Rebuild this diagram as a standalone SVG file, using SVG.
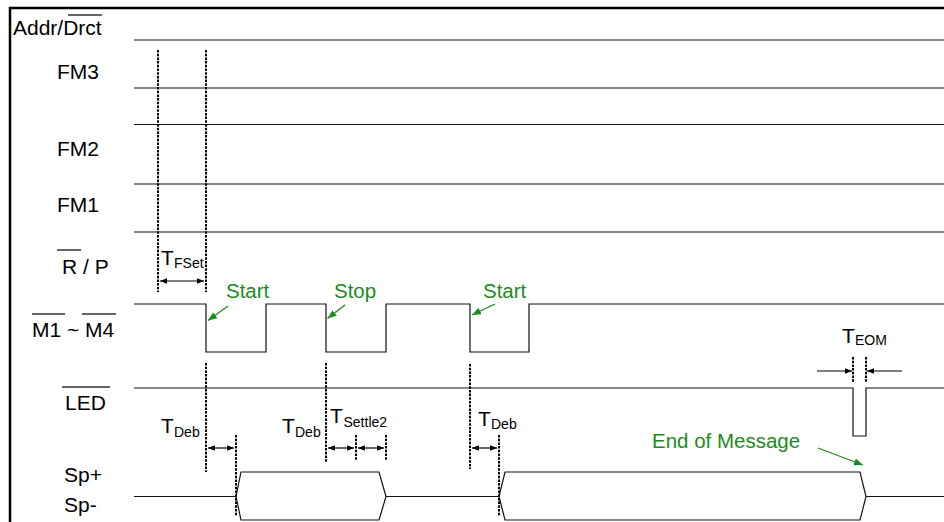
<svg xmlns="http://www.w3.org/2000/svg" width="944" height="522" viewBox="0 0 944 522">
<defs>
<style>
.lbl{font-family:"Liberation Sans",Arial,sans-serif;font-size:21px;fill:#000}
.sub{font-family:"Liberation Sans",Arial,sans-serif;font-size:14px;fill:#000}
.grn{font-family:"Liberation Sans",Arial,sans-serif;font-size:20.5px;fill:#1a8c1a}
.sig{fill:none;stroke:#111;stroke-width:1.2}
.ovl{stroke:#333;stroke-width:1.5}
.dash{stroke:#000;stroke-width:2;stroke-dasharray:2.5 1.2;fill:none}
.dim{stroke:#000;stroke-width:1.2;fill:none;marker-end:url(#ah);marker-start:url(#ahs)}
.dim1{stroke:#000;stroke-width:1.2;fill:none;marker-end:url(#ah)}
.garr{stroke:#1a8c1a;stroke-width:1.3;fill:none;marker-end:url(#gh)}
</style>
<marker id="ah" viewBox="0 0 10 10" refX="10" refY="5" markerWidth="7" markerHeight="7" markerUnits="userSpaceOnUse" orient="auto"><path d="M0,1 L10,5 L0,9 Z" fill="#000"/></marker>
<marker id="ahs" viewBox="0 0 10 10" refX="0" refY="5" markerWidth="7" markerHeight="7" markerUnits="userSpaceOnUse" orient="auto"><path d="M10,1 L0,5 L10,9 Z" fill="#000"/></marker>
<marker id="gh" viewBox="0 0 10 10" refX="10" refY="5" markerWidth="9" markerHeight="9" markerUnits="userSpaceOnUse" orient="auto"><path d="M0,1 L10,5 L0,9 Z" fill="#1a8c1a"/></marker>
</defs>
<rect width="944" height="522" fill="#fff"/>
<g id="frame"><path d="M10,522 V8 H944" fill="none" stroke="#000" stroke-width="2.5"/></g>

<g id="sig-addr">
<text class="lbl" x="13" y="35">Addr/Drct</text>
<line class="ovl" x1="68" y1="15" x2="102" y2="15"/>
<line x1="134" y1="40" x2="944" y2="40" stroke="#666" stroke-width="1.6"/>
</g>
<g id="sig-fm3">
<text class="lbl" x="57" y="79">FM3</text>
<line class="sig" x1="134" y1="88" x2="944" y2="88"/>
</g>
<g id="sig-fm2">
<text class="lbl" x="57" y="156">FM2</text>
<line class="sig" x1="134" y1="124.5" x2="944" y2="124.5"/>
<line class="sig" x1="134" y1="184" x2="944" y2="184"/>
</g>
<g id="sig-fm1">
<text class="lbl" x="57" y="212">FM1</text>
<line class="sig" x1="134" y1="232" x2="944" y2="232"/>
</g>
<g id="sig-rp">
<text class="lbl" x="62" y="274">R / P</text>
<line class="ovl" x1="57" y1="250" x2="81" y2="250"/>
</g>
<g id="sig-m">
<text class="lbl" x="32" y="337">M1 ~ M4</text>
<line class="ovl" x1="32" y1="314" x2="65" y2="314"/>
<line class="ovl" x1="82" y1="314" x2="116" y2="314"/>
<path class="sig" d="M134,304 H206 V352 H266 V304 H326 V352 H386 V304 H470 V352 H529 V304 H944"/>
</g>
<g id="sig-led">
<text class="lbl" x="65" y="410">LED</text>
<line class="ovl" x1="62" y1="387" x2="110" y2="387"/>
<path class="sig" d="M134,388 H853 V436 H866 V388 H944"/>
</g>
<g id="sig-sp">
<text class="lbl" x="64" y="482">Sp+</text>
<text class="lbl" x="64" y="512">Sp-</text>
<path class="sig" d="M134,496.5 H236"/>
<path class="sig" d="M236,496.5 L241,472 H379 L386,496.5 L379,520 H241 Z"/>
<path class="sig" d="M386,496.5 H499"/>
<path class="sig" d="M499,496.5 L505,472 H860 L866,496.5 L860,520 H505 Z"/>
<path class="sig" d="M866,496.5 H944"/>
</g>

<g id="timing-lines">
<line class="dash" x1="158" y1="50" x2="158" y2="292"/>
<line class="dash" x1="206" y1="50" x2="206" y2="292"/>
<line class="dash" x1="206" y1="363" x2="206" y2="472"/>
<line class="dash" x1="236" y1="435" x2="236" y2="516"/>
<line class="dash" x1="326" y1="363" x2="326" y2="463"/>
<line class="dash" x1="356" y1="435" x2="356" y2="460"/>
<line class="dash" x1="386" y1="435" x2="386" y2="460"/>
<line class="dash" x1="470" y1="364" x2="470" y2="469"/>
<line class="dash" x1="499" y1="435" x2="499" y2="516"/>
<line class="dash" x1="853" y1="357" x2="853" y2="383"/>
<line class="dash" x1="866" y1="357" x2="866" y2="383"/>
</g>

<g id="timing-labels">
<text class="lbl" x="161" y="265">T</text><text class="sub" x="174" y="268">FSet</text>
<text class="lbl" x="161" y="433">T</text><text class="sub" x="174" y="437">Deb</text>
<text class="lbl" x="282" y="433">T</text><text class="sub" x="295" y="437">Deb</text>
<text class="lbl" x="330" y="423">T</text><text class="sub" x="343.5" y="427">Settle2</text>
<text class="lbl" x="478" y="426">T</text><text class="sub" x="491" y="429">Deb</text>
<text class="lbl" x="842" y="343">T</text><text class="sub" x="855" y="345">EOM</text>
<text class="grn" x="226" y="298">Start</text>
<text class="grn" x="334" y="298">Stop</text>
<text class="grn" x="483" y="298">Start</text>
<text class="grn" x="652" y="448">End of Message</text>
</g>

<g id="connectors">
<line class="dim" x1="160" y1="281" x2="204" y2="281"/>
<line class="dim" x1="208" y1="448" x2="234" y2="448"/>
<line class="dim" x1="328" y1="448" x2="354" y2="448"/>
<line class="dim" x1="358" y1="448" x2="384" y2="448"/>
<line class="dim" x1="472" y1="448" x2="497" y2="448"/>
<line class="dim1" x1="817" y1="371" x2="852" y2="371"/>
<line class="dim1" x1="902" y1="371" x2="867" y2="371"/>
<line class="garr" x1="228" y1="306" x2="208" y2="320.5"/>
<line class="garr" x1="345" y1="305" x2="327.5" y2="318.5"/>
<line class="garr" x1="495" y1="304" x2="472" y2="315"/>
<line class="garr" x1="818" y1="448" x2="863" y2="465"/>
</g>
</svg>
